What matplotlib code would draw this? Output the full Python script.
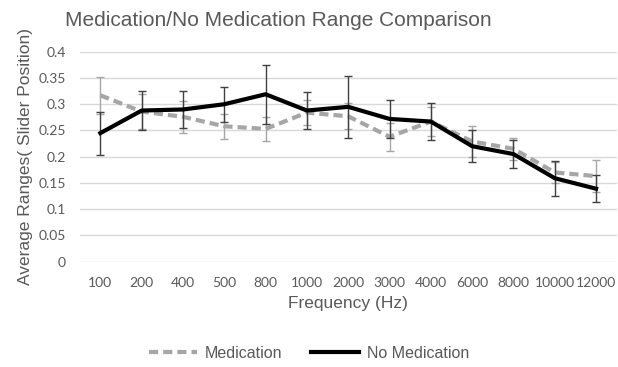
#!/usr/bin/env python3
"""
Medication / No Medication range comparison, line chart with error bars
"""

import matplotlib.pyplot as plt
from matplotlib.lines import Line2D

freqs = ['100', '200', '400', '500', '800', '1000', '2000', '3000',
         '4000', '6000', '8000', '10000', '12000']

med = [0.317, 0.286, 0.276, 0.258, 0.253, 0.284, 0.277, 0.238,
       0.267, 0.229, 0.215, 0.170, 0.163]
med_err = [0.035, 0.033, 0.030, 0.024, 0.023, 0.024, 0.025, 0.027,
           0.028, 0.030, 0.021, 0.020, 0.030]

nomed = [0.245, 0.288, 0.290, 0.300, 0.319, 0.288, 0.295, 0.272,
         0.267, 0.220, 0.205, 0.159, 0.139]
nomed_err = [0.041, 0.038, 0.036, 0.033, 0.056, 0.036, 0.059, 0.037,
             0.035, 0.031, 0.026, 0.033, 0.026]

yticks = [0, 0.05, 0.1, 0.15, 0.2, 0.25, 0.3, 0.35, 0.4]
ytick_labels = ['0', '0.05', '0.1', '0.15', '0.2', '0.25', '0.3', '0.35', '0.4']

text_gray = '#595959'
med_color = '#A6A6A6'
dash = (0, (2.2, 1.2))

plt.rcParams['font.family'] = ['Liberation Sans', 'DejaVu Sans']

fig = plt.figure(figsize=(6.18, 3.67), dpi=100)
ax = fig.add_axes([0.129, 0.287, 0.869, 0.572])

x = list(range(len(freqs)))

ax.errorbar(x, med, yerr=med_err, color=med_color, linewidth=3,
            linestyle=dash, ecolor='#A6A6A6', elinewidth=1,
            capsize=3, capthick=1, zorder=3)
ax.errorbar(x, nomed, yerr=nomed_err, color='black', linewidth=3,
            ecolor='#404040', elinewidth=1, capsize=3, capthick=1,
            zorder=4)

ax.set_xlim(-0.5, len(freqs) - 0.5)
ax.set_ylim(0, 0.4)
ax.set_xticks(x)
ax.set_xticklabels(freqs, family='Lato', fontsize=10, color=text_gray)
ax.set_yticks(yticks)
ax.set_yticklabels(ytick_labels, family='Lato', fontsize=10, color=text_gray)
ax.tick_params(length=0, pad=11)
ax.tick_params(axis='y', pad=10)
ax.grid(axis='y', color='#D9D9D9', linewidth=1)
ax.set_axisbelow(True)
for s in ax.spines.values():
    s.set_visible(False)

ax.set_xlabel('Frequency (Hz)', fontsize=12.5, color=text_gray, labelpad=5)
ax.set_ylabel('Average Ranges( Slider Position)', fontsize=12.5,
              color=text_gray, labelpad=4)
fig.text(0.105, 0.93, 'Medication/No Medication Range Comparison',
         fontsize=15, color=text_gray, ha='left', va='baseline')

handles = [Line2D([], [], color=med_color, linewidth=3, linestyle=dash),
           Line2D([], [], color='black', linewidth=3)]
leg = fig.legend(handles, ['Medication', 'No Medication'], loc='center',
                 bbox_to_anchor=(0.5, 0.038), ncol=2, frameon=False,
                 fontsize=11.5, handlelength=3.0, columnspacing=1.8,
                 handletextpad=0.5)
for t in leg.get_texts():
    t.set_color(text_gray)

fig.savefig('out.png', dpi=100)
